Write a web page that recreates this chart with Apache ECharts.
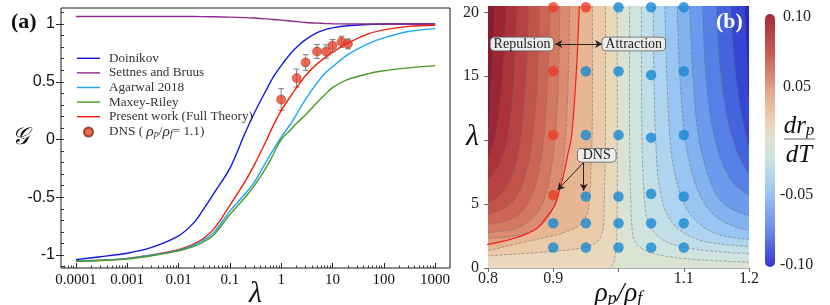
<!DOCTYPE html>
<html><head><meta charset="utf-8">
<script src="https://cdn.jsdelivr.net/npm/echarts@6/dist/echarts.min.js"></script>
<style>html,body{margin:0;padding:0;background:#fff}#c{width:830px;height:305px}</style>
</head><body><div id="c"></div>
<script>
// ---------------- panel (a) data ----------------
const lambdaGrid = [0.0001,0.0003,0.001,0.003,0.01,0.02,0.03,0.05,0.1,0.2,0.3,0.5,0.7,1,1.5,2,3,5,7,10,20,50,100,300,1000];
const doinikov = [-1.040,-1.015,-0.985,-0.935,-0.835,-0.72,-0.61,-0.46,-0.25,0.06,0.23,0.42,0.54,0.64,0.74,0.80,0.865,0.925,0.95,0.967,0.985,0.996,1.0,1.0,1.0];
const settnesBruus = [1.066,1.066,1.066,1.066,1.065,1.065,1.064,1.063,1.060,1.056,1.052,1.045,1.040,1.034,1.027,1.021,1.014,1.008,1.005,1.003,1.001,1.0,1.0,1.0,1.0];
const agarwal2018 = [-1.052,-1.046,-1.032,-1.003,-0.96,-0.915,-0.875,-0.80,-0.62,-0.47,-0.37,-0.20,-0.09,0.02,0.13,0.22,0.35,0.49,0.57,0.63,0.735,0.83,0.88,0.935,0.96];
const maxeyRiley = [-1.055,-1.049,-1.036,-1.007,-0.965,-0.925,-0.89,-0.82,-0.65,-0.50,-0.40,-0.25,-0.13,0.0,0.08,0.14,0.215,0.32,0.385,0.45,0.52,0.57,0.595,0.62,0.64];
const presentWork = [-1.052,-1.046,-1.030,-1.0,-0.955,-0.905,-0.86,-0.77,-0.57,-0.36,-0.22,-0.02,0.12,0.25,0.37,0.45,0.555,0.655,0.705,0.755,0.835,0.915,0.95,0.98,0.99];
const dnsLambda = [1,2,3,5,7.5,10,15,20];
const dnsG = [0.346,0.532,0.667,0.762,0.762,0.814,0.846,0.828];
const dnsErr = [0.094,0.078,0.068,0.06,0.058,0.053,0.048,0.043];
const xTickValues = [0.0001,0.001,0.01,0.1,1,10,100,1000];
const xTickLabels = ['0.0001','0.001','0.01','0.1','1','10','100','1000'];
const yTickValues = [-1,-0.5,0,0.5,1];
const yTickLabels = ['-1','-0.5','0','0.5','1'];

// ---------------- panel (b) data ----------------
const rhoTickValues = [0.8,0.9,1.1,1.2];
const rhoTickLabels = ['0.8','0.9','1.1','1.2'];
const lamTickValues = [0,5,15,20];
const lamTickLabels = ['0','5','15','20'];
const repulsionDots = [[0.9,20.4],[0.95,20.4],[0.9,15.4],[0.9,10.4],[0.9,5.7]];
const attractionDots = [[1.0,20.4],[1.05,20.4],[1.1,20.4],
  [0.95,15.4],[1.0,15.4],[1.05,15.1],[1.1,15.4],
  [0.95,10.4],[1.0,10.4],[1.05,10.2],[1.1,10.4],
  [0.95,5.6],[1.0,5.6],[1.05,5.8],[1.1,5.6],
  [0.9,3.5],[0.95,3.5],[1.0,3.5],[1.05,3.5],[1.1,3.5],
  [0.9,1.6],[0.95,1.6],[1.0,1.6],[1.05,1.6],[1.1,1.6]];
const redBoundary = [[0.940,20.5],[0.935,15],[0.928,10.3],[0.922,8.8],[0.9155,7.2],[0.908,5.8],[0.902,4.85],[0.889,3.95],[0.874,3.05],[0.843,2.37],[0.817,2.03],[0.800,1.85],[0.78,1.72]];
// contour lines of dr_p/dT, [rho, lambda]
const contourL1 = [[0.811,20.5],[0.808,17],[0.804,13.5],[0.800,10.5],[0.78,6.5]];
const contourL2 = [[0.828,20.5],[0.825,17],[0.820,13.5],[0.812,10.5],[0.806,9.4],[0.800,8.6],[0.78,6.8]];
const contourL3 = [[0.845,20.5],[0.842,17],[0.838,13.5],[0.831,10.5],[0.823,8.8],[0.812,7.6],[0.800,6.9],[0.78,6.1]];
const contourL4 = [[0.862,20.5],[0.860,17],[0.856,13.5],[0.851,10.5],[0.843,8.3],[0.832,6.7],[0.816,5.6],[0.800,5.1],[0.78,4.7]];
const contourL5 = [[0.879,20.5],[0.877,17],[0.874,13.5],[0.869,10.5],[0.862,8.2],[0.851,6.3],[0.836,5.1],[0.818,4.5],[0.800,4.2],[0.78,4.0]];
const contourL6 = [[0.895,20.5],[0.893,17],[0.890,13.5],[0.886,10.5],[0.880,8.2],[0.871,6.2],[0.858,4.8],[0.840,3.95],[0.820,3.6],[0.800,3.45],[0.78,3.35]];
const contourL7 = [[0.910,20.5],[0.909,17],[0.907,13.5],[0.903,10.5],[0.898,8.2],[0.891,6.2],[0.881,4.8],[0.866,3.8],[0.845,3.15],[0.822,2.9],[0.800,2.78],[0.78,2.7]];
const contourL8 = [[0.925,20.5],[0.924,17],[0.922,13.5],[0.919,10.5],[0.915,8.2],[0.909,6.2],[0.900,4.7],[0.887,3.6],[0.868,2.95],[0.845,2.55],[0.822,2.38],[0.800,2.3],[0.78,2.24]];
const contourL10 = [[0.960,20.5],[0.960,12],[0.958,8],[0.955,5],[0.950,4],[0.940,3.3],[0.912,2.7],[0.880,2.3],[0.845,1.9],[0.820,1.6],[0.800,1.35],[0.78,1.22]];
const contourL11 = [[0.980,20.5],[0.980,10],[0.978,5],[0.977,3.2],[0.970,2.2],[0.955,1.7],[0.930,1.45],[0.900,1.3],[0.860,1.15],[0.830,1.05],[0.800,0.95],[0.78,0.9]];
const contourCenter = [[0.998,20.5],[0.998,5],[0.997,2],[0.995,1],[0.993,0.5],[0.990,0.2],[0.988,0],[0.985,-1],[0.78,-1]];
const contourR1 = [[1.017,20.5],[1.017,10],[1.019,5],[1.021,3],[1.026,2],[1.040,1.4],[1.060,1.05],[1.090,0.8],[1.130,0.62],[1.170,0.52],[1.200,0.46],[1.22,0.43]];
const contourR2 = [[1.035,20.5],[1.036,10],[1.039,6],[1.043,4],[1.051,3],[1.068,2.2],[1.090,1.75],[1.120,1.45],[1.160,1.25],[1.200,1.12],[1.22,1.07]];
const contourR3 = [[1.053,20.5],[1.055,13],[1.059,8],[1.064,6],[1.072,4.5],[1.085,3.4],[1.105,2.6],[1.130,2.1],[1.160,1.85],[1.200,1.68],[1.22,1.62]];
const contourR4 = [[1.071,20.5],[1.074,15],[1.079,10],[1.086,7.5],[1.096,5.6],[1.110,4.2],[1.130,3.2],[1.155,2.6],[1.180,2.35],[1.200,2.25],[1.22,2.18]];
const contourR5 = [[1.090,20.5],[1.094,15],[1.101,10.5],[1.110,8],[1.122,6],[1.138,4.6],[1.158,3.7],[1.180,3.2],[1.200,2.95],[1.22,2.8]];
const contourR6 = [[1.109,20.5],[1.114,15],[1.122,10.5],[1.133,8],[1.147,6],[1.164,4.9],[1.183,4.4],[1.200,4.1],[1.22,3.9]];
const contourR7 = [[1.129,20.5],[1.134,15],[1.144,11],[1.157,8.5],[1.172,6.9],[1.188,6.1],[1.200,5.7],[1.22,5.2]];
const contourR8 = [[1.150,20.5],[1.156,15.5],[1.166,12],[1.179,9.5],[1.192,8.0],[1.200,7.4],[1.22,6.3]];
const contourR9 = [[1.172,20.5],[1.178,16],[1.187,12.5],[1.196,10.2],[1.200,9.5],[1.22,7.5]];
const contourR10 = [[1.193,20.5],[1.197,16.5],[1.200,13],[1.22,9]];
const cbLabels = ['0.10','0.05','-0.05','-0.10'];

// ---------------- styling ----------------
const SERIF = 'Liberation Serif';
const leftContours = [contourL1,contourL2,contourL3,contourL4,contourL5,contourL6,contourL7,contourL8,redBoundary,contourL10,contourL11,contourCenter];
const leftColors = ['#8c1b2c','#9b2533','#aa333b','#b74243','#c2534b','#cc6555','#d47862','#da8b70','#e09e7f','#e7b693','#ebcaa9','#e8d9bd'];
const rightContours = [contourR1,contourR2,contourR3,contourR4,contourR5,contourR6,contourR7,contourR8,contourR9,contourR10];
const rightColors = ['#d0e4df','#c2dfe8','#aed4f0','#98c5f2','#82b2f0','#6c9aec','#5680e6','#4464de','#3545d4','#2a26c6'];
const baseColor = '#dae2d2';

const regions = [{pts:[[0.78,21.5],[1.22,21.5],[1.22,-1],[0.78,-1]], close:[], fill:baseColor, smooth:false}];
for (let k = leftContours.length-1; k >= 0; k--) {
  const c = leftContours[k];
  regions.push({pts:[[c[0][0],21.5]].concat(c), close:[[0.78,21.5]], fill:leftColors[k], smooth:true});
}
rightContours.forEach((c,k)=>{
  regions.push({pts:[[c[0][0],21.5]].concat(c), close:[[1.22,21.5]], fill:rightColors[k], smooth:true});
});
const lineContours = leftContours.filter(c=>c!==redBoundary).concat(rightContours);

function smoothPath(px){
  let d = 'M'+px[0][0]+','+px[0][1];
  for (let i=0;i<px.length-1;i++){
    const p0=px[i-1]||px[i], p1=px[i], p2=px[i+1], p3=px[i+2]||px[i+1];
    const t=1/6;
    const c1=[p1[0]+(p2[0]-p0[0])*t, p1[1]+(p2[1]-p0[1])*t];
    const c2=[p2[0]-(p3[0]-p1[0])*t, p2[1]-(p3[1]-p1[1])*t];
    d += ' C'+c1[0]+','+c1[1]+' '+c2[0]+','+c2[1]+' '+p2[0]+','+p2[1];
  }
  return d;
}
function straightPath(px){ return px.map((p,i)=>(i?'L':'M')+p[0]+','+p[1]).join(' '); }
function clipOf(params){ const cs=params.coordSys; return {type:'rect', shape:{x:cs.x,y:cs.y,width:cs.width,height:cs.height}}; }

const minorTicks = [];
for (let n=-5;n<=3;n++) for (let k=2;k<=9;k++){ const v=k*Math.pow(10,n); if (v>Math.pow(10,-4.29) && v<Math.pow(10,3.29)) minorTicks.push(v); }
const yMinor = []; for (let v=-11; v<=11; v++) yMinor.push(v/10);

const chart = echarts.init(document.getElementById('c'), null, {renderer:'canvas'});
const xMin = Math.pow(10,-4.29), xMax = Math.pow(10,3.29);
const lineIcon = 'path://M0,0H24V1.5H0Z';
const LW = 1.4;

const option = {
  animation:false,
  backgroundColor:'#fff',
  grid:[
    {left:61, top:8, width:389, height:260, show:true, borderColor:'#1a1a1a', borderWidth:1, outerBoundsMode:'none', containLabel:false},
    {left:488, top:6, width:261, height:262, outerBoundsMode:'none', containLabel:false}
  ],
  legend:{
    orient:'vertical', left:77, top:51, padding:0, itemWidth:23, itemHeight:9, itemGap:0, symbolKeepAspect:true,
    data:[{name:'Doinikov', icon:lineIcon},{name:'Settnes and Bruus', icon:lineIcon},{name:'Agarwal 2018', icon:lineIcon},
          {name:'Maxey-Riley', icon:lineIcon},{name:'Present work (Full Theory)', icon:lineIcon},{name:'DNS', icon:'circle'}],
    textStyle:{fontFamily:SERIF, fontSize:13.2, color:'#333', lineHeight:14.6, padding:[0,0,0,4],
      rich:{t:{fontFamily:SERIF,fontSize:13.2,color:'#333',lineHeight:14.6},
            i:{fontFamily:SERIF,fontStyle:'italic',fontSize:15.5,color:'#333',lineHeight:14.6},
            s:{fontFamily:SERIF,fontStyle:'italic',fontSize:10,color:'#333',lineHeight:9,verticalAlign:'bottom'}}},
    formatter: n => n==='DNS' ? '{t|DNS ( }{i|ρ}{s|p}{t|/}{i|ρ}{s|f}{t|= 1.1)}' : n
  },
  xAxis:[
    {type:'log', logBase:10, gridIndex:0, min:xMin, max:xMax,
     axisLine:{show:false, onZero:false}, splitLine:{show:false}, minorTick:{show:false},
     axisTick:{show:true, inside:true, length:5, customValues:xTickValues, lineStyle:{color:'#222'}},
     axisLabel:{customValues:xTickValues, margin:5, fontFamily:SERIF, fontSize:15, color:'#111',
       formatter:v=>{const i=xTickValues.findIndex(t=>Math.abs(Math.log10(t/v))<1e-6); return i>=0?xTickLabels[i]:'';}},
     name:'λ', nameLocation:'middle', nameGap:11, nameMoveOverlap:false,
     nameTextStyle:{fontFamily:SERIF, fontStyle:'italic', fontSize:30, color:'#111', verticalAlign:'top'}},
    {type:'log', logBase:10, gridIndex:0, min:xMin, max:xMax, position:'bottom',
     axisLine:{show:false, onZero:false}, splitLine:{show:false}, axisLabel:{show:false},
     axisTick:{show:true, inside:true, length:2.5, customValues:minorTicks, lineStyle:{color:'#333'}}},
    {type:'value', gridIndex:1, min:0.8, max:1.2,
     axisLine:{show:true, onZero:false, lineStyle:{color:'#999', width:0.8}}, splitLine:{show:false},
     axisTick:{show:true, length:4, customValues:[0.8,0.9,1.0,1.1,1.2], lineStyle:{color:'#666'}},
     axisLabel:{customValues:rhoTickValues, margin:3, fontFamily:SERIF, fontSize:16, color:'#222',
       formatter:v=>{const i=rhoTickValues.findIndex(t=>Math.abs(t-v)<1e-6); return i>=0?rhoTickLabels[i]:'';}},
     name:'{i|ρ}{s|p}{i|/ρ}{s|f}', nameLocation:'middle', nameGap:12, nameMoveOverlap:false,
     nameTextStyle:{verticalAlign:'top', rich:{i:{fontFamily:SERIF,fontStyle:'italic',fontSize:27,color:'#111',lineHeight:28},
                          s:{fontFamily:SERIF,fontStyle:'italic',fontSize:18,color:'#111',lineHeight:16,verticalAlign:'bottom'}}}}
  ],
  yAxis:[
    {type:'value', gridIndex:0, min:-1.113, max:1.139,
     axisLine:{show:false, onZero:false}, splitLine:{show:false},
     axisTick:{show:true, inside:false, length:5, customValues:yTickValues, lineStyle:{color:'#222'}},
     axisLabel:{customValues:yTickValues, margin:6, fontFamily:'Liberation Sans', fontSize:16, color:'#111',
       formatter:v=>{const i=yTickValues.findIndex(t=>Math.abs(t-v)<1e-6); return i>=0?yTickLabels[i]:'';}},
     name:'𝒢', nameLocation:'middle', nameRotate:0, nameGap:32, nameMoveOverlap:false,
     nameTextStyle:{fontFamily:'DejaVu Serif', fontStyle:'italic', fontSize:24, color:'#111', align:'right', verticalAlign:'middle'}},
    {type:'value', gridIndex:0, min:-1.113, max:1.139, position:'left',
     axisLine:{show:false, onZero:false}, splitLine:{show:false}, axisLabel:{show:false},
     axisTick:{show:true, inside:true, length:3, customValues:yMinor, lineStyle:{color:'#333'}}},
    {type:'value', gridIndex:1, min:0, max:20.5,
     axisLine:{show:true, onZero:false, lineStyle:{color:'#999', width:0.8}}, splitLine:{show:false},
     axisTick:{show:true, length:4, customValues:[0,5,10,15,20], lineStyle:{color:'#666'}},
     axisLabel:{customValues:lamTickValues, margin:9, fontFamily:SERIF, fontSize:16, color:'#222',
       formatter:v=>{const i=lamTickValues.findIndex(t=>Math.abs(t-v)<1e-6); return i>=0?lamTickLabels[i]:'';}},
     name:'λ', nameLocation:'middle', nameRotate:0, nameGap:9, nameMoveOverlap:false,
     nameTextStyle:{fontFamily:SERIF, fontStyle:'italic', fontSize:30, color:'#111', align:'right', verticalAlign:'middle'}}
  ],
  series:[
    {name:'Doinikov', type:'line', xAxisIndex:0, yAxisIndex:0, symbol:'none', smooth:0.3,
     lineStyle:{color:'#1515e6', width:LW}, itemStyle:{color:'#1515e6'},
     data:lambdaGrid.map((l,i)=>[l,doinikov[i]])},
    {name:'Settnes and Bruus', type:'line', xAxisIndex:0, yAxisIndex:0, symbol:'none', smooth:0.3,
     lineStyle:{color:'#8e2d8e', width:LW}, itemStyle:{color:'#8e2d8e'},
     data:lambdaGrid.map((l,i)=>[l,settnesBruus[i]])},
    {name:'Present work (Full Theory)', type:'line', xAxisIndex:0, yAxisIndex:0, symbol:'none', smooth:0.3,
     lineStyle:{color:'#f01e0e', width:LW}, itemStyle:{color:'#f01e0e'},
     data:lambdaGrid.map((l,i)=>[l,presentWork[i]])},
    {name:'Agarwal 2018', type:'line', xAxisIndex:0, yAxisIndex:0, symbol:'none', smooth:0.3,
     lineStyle:{color:'#1ea5f5', width:LW}, itemStyle:{color:'#1ea5f5'},
     data:lambdaGrid.map((l,i)=>[l,agarwal2018[i]])},
    {name:'Maxey-Riley', type:'line', xAxisIndex:0, yAxisIndex:0, symbol:'none', smooth:0.3,
     lineStyle:{color:'#4a9a28', width:LW}, itemStyle:{color:'#4a9a28'},
     data:lambdaGrid.map((l,i)=>[l,maxeyRiley[i]])},
    {name:'DNS error', type:'custom', xAxisIndex:0, yAxisIndex:0,
     data:dnsLambda.map((l,i)=>[l,dnsG[i],dnsErr[i]]),
     renderItem:(params,api)=>{
       const l=api.value(0), g=api.value(1), e=api.value(2);
       const top=api.coord([l,g+e]), bot=api.coord([l,g-e]);
       const st={stroke:'#7d7d7d', lineWidth:1};
       return {type:'group', children:[
         {type:'line', shape:{x1:top[0],y1:top[1],x2:bot[0],y2:bot[1]}, style:st},
         {type:'line', shape:{x1:top[0]-3,y1:top[1],x2:top[0]+3,y2:top[1]}, style:st},
         {type:'line', shape:{x1:bot[0]-3,y1:bot[1],x2:bot[0]+3,y2:bot[1]}, style:st}]};
     }},
    {name:'DNS', type:'scatter', xAxisIndex:0, yAxisIndex:0, symbol:'circle', symbolSize:9,
     itemStyle:{color:'#e8452b', borderColor:'#8a2c1c', borderWidth:0.6},
     data:dnsLambda.map((l,i)=>[l,dnsG[i]])},
    // panel (b)
    {name:'dr/dT bands', type:'custom', xAxisIndex:2, yAxisIndex:2, silent:true,
     data:regions.map((r,i)=>[1.0,10,i]),
     renderItem:(params,api)=>{
       const r=regions[api.value(2)];
       const px=r.pts.map(p=>api.coord(p));
       let d = r.smooth ? smoothPath(px) : straightPath(px);
       r.close.forEach(c=>{const q=api.coord(c); d+=' L'+q[0]+','+q[1];});
       d+=' Z';
       return {type:'path', shape:{pathData:d}, style:{fill:r.fill, stroke:r.fill, lineWidth:0.3}, clipPath:clipOf(params)};
     }},
    {name:'contours', type:'custom', xAxisIndex:2, yAxisIndex:2, silent:true,
     data:lineContours.map((c,i)=>[1.0,10,i]),
     renderItem:(params,api)=>{
       const c=lineContours[api.value(2)];
       const px=[[c[0][0],21.5]].concat(c).map(p=>api.coord(p));
       return {type:'path', shape:{pathData:smoothPath(px)}, style:{fill:null, stroke:'#6a6a6a', lineWidth:0.6, lineDash:[3,1.5], opacity:0.85}, clipPath:clipOf(params)};
     }},
    {name:'Repulsion/Attraction boundary', type:'line', xAxisIndex:2, yAxisIndex:2, symbol:'none', smooth:0.35,
     lineStyle:{color:'#ff1a1a', width:1.2}, data:redBoundary},
    {name:'DNS repulsion', type:'scatter', xAxisIndex:2, yAxisIndex:2, symbolSize:10.5, clip:false,
     itemStyle:{color:'#ee3b26'}, data:repulsionDots},
    {name:'DNS attraction', type:'scatter', xAxisIndex:2, yAxisIndex:2, symbolSize:10.5, clip:false,
     itemStyle:{color:'#1888d2'}, data:attractionDots,
     markLine:{silent:true, symbol:['none','arrow'], symbolSize:[6,7], label:{show:false},
       lineStyle:{color:'#222', width:1, type:'solid'},
       data:[
         [{coord:[0.937,17.53]},{coord:[0.903,17.53]}],
         [{coord:[0.937,17.53]},{coord:[0.975,17.53]}],
         [{coord:[0.9464,8.25]},{coord:[0.9065,6.1]}],
         [{coord:[0.9467,8.25]},{coord:[0.9467,6.05]}]
       ]}}
  ],
  graphic:[
    {type:'text', left:11, top:11, style:{text:'(a)', font:'bold 22px "Liberation Serif"', fill:'#111'}},
    {type:'text', left:716, top:11, z:100, style:{text:'(b)', font:'bold 22px "Liberation Serif"', fill:'#fff'}},
    {type:'text', x:522, y:44, z:100, style:{text:'Repulsion', font:'14px "Liberation Serif"', fill:'#222', align:'center', verticalAlign:'middle',
      backgroundColor:'#ececec', borderColor:'#555', borderWidth:0.8, borderRadius:4, padding:[0,3,0,3], lineHeight:13}},
    {type:'text', x:633.7, y:44, z:100, style:{text:'Attraction', font:'14px "Liberation Serif"', fill:'#222', align:'center', verticalAlign:'middle',
      backgroundColor:'#ececec', borderColor:'#555', borderWidth:0.8, borderRadius:4, padding:[0,3,0,3], lineHeight:13}},
    {type:'text', x:596.7, y:155.3, z:100, style:{text:'DNS', font:'14px "Liberation Serif"', fill:'#222', align:'center', verticalAlign:'middle',
      backgroundColor:'#ececec', borderColor:'#555', borderWidth:0.8, borderRadius:4, padding:[0,5,0,5], lineHeight:13}},
    {type:'rect', shape:{x:765, y:14, width:10, height:253, r:5},
     style:{fill:new echarts.graphic.LinearGradient(0,0,0,1,[
       {offset:0,color:'#a52a3a'},{offset:0.15,color:'#c65a52'},{offset:0.3,color:'#e2a584'},{offset:0.42,color:'#ebd3b4'},
       {offset:0.5,color:'#dfe2d0'},{offset:0.58,color:'#c9e2e4'},{offset:0.7,color:'#9ec8f0'},{offset:0.85,color:'#6a8fe8'},{offset:1,color:'#3434d0'}])}},
    {type:'text', x:783, y:17, style:{text:cbLabels[0], font:'16px "Liberation Serif"', fill:'#222', verticalAlign:'middle'}},
    {type:'text', x:783, y:87, style:{text:cbLabels[1], font:'16px "Liberation Serif"', fill:'#222', verticalAlign:'middle'}},
    {type:'text', x:780, y:195, style:{text:cbLabels[2], font:'16px "Liberation Serif"', fill:'#222', verticalAlign:'middle'}},
    {type:'text', x:780, y:265, style:{text:cbLabels[3], font:'16px "Liberation Serif"', fill:'#222', verticalAlign:'middle'}},
    {type:'text', x:799, y:126, style:{text:'{i|dr}{s|p}', align:'center', verticalAlign:'middle',
      rich:{i:{font:'italic 25px "Liberation Serif"', fill:'#111', lineHeight:26}, s:{font:'italic 17px "Liberation Serif"', fill:'#111', lineHeight:16, verticalAlign:'bottom'}}}},
    {type:'line', shape:{x1:784, y1:139, x2:815, y2:139}, style:{stroke:'#999', lineWidth:1.5}},
    {type:'text', x:799, y:155, style:{text:'dT', font:'italic 25px "Liberation Serif"', fill:'#111', align:'center', verticalAlign:'middle'}}
  ]
};
chart.setOption(option);
</script></body></html>
